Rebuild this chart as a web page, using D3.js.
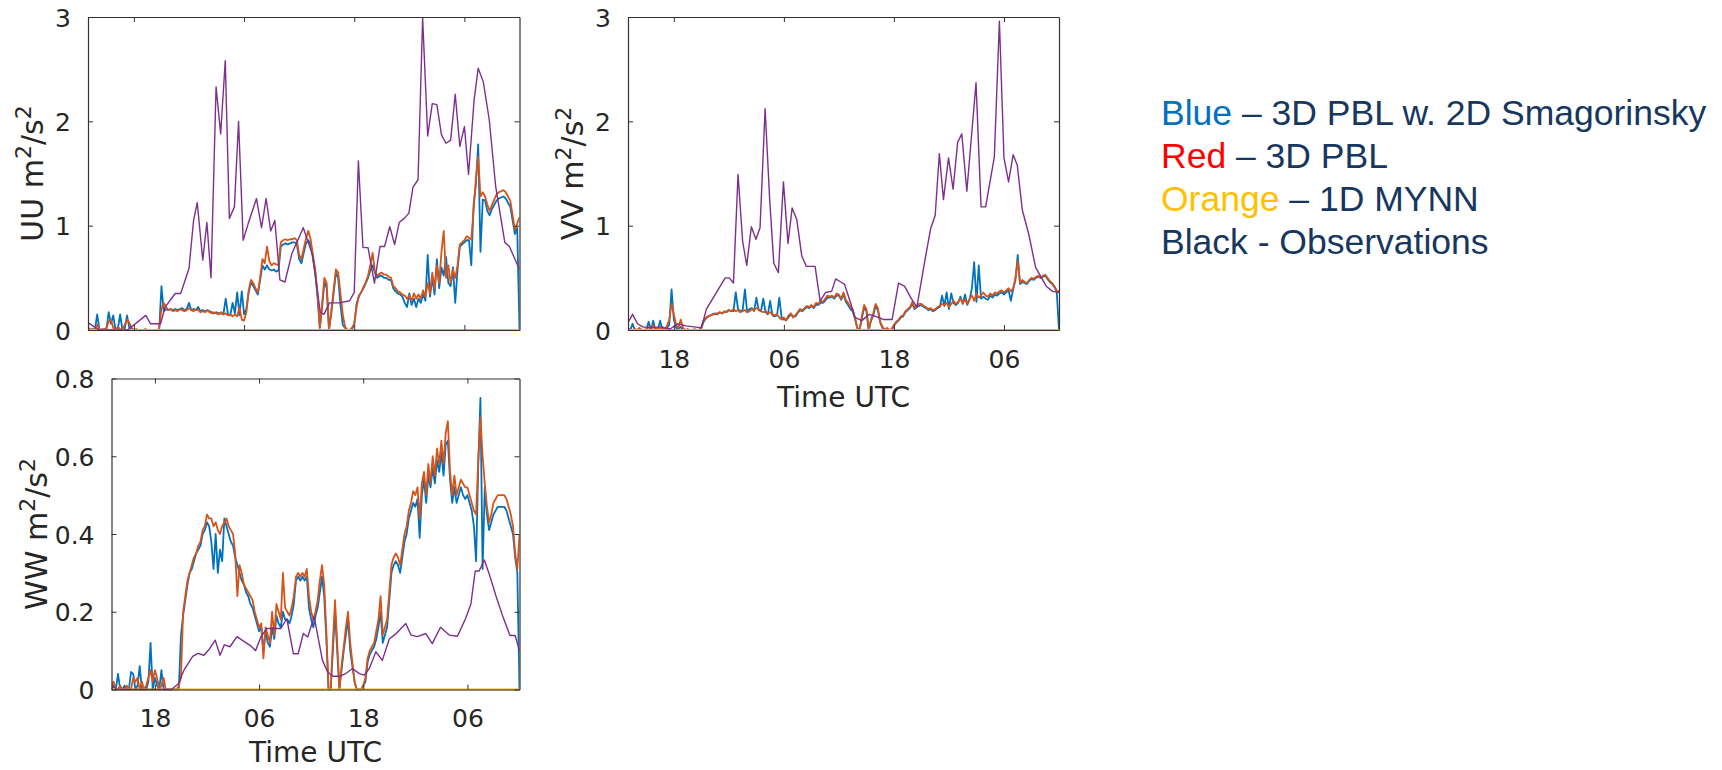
<!DOCTYPE html>
<html>
<head>
<meta charset="utf-8">
<script src="https://cdn.jsdelivr.net/npm/d3@7"></script>
<style>
  html, body { margin: 0; padding: 0; background: #ffffff; }
  svg { display: block; }
</style>
</head>
<body>
<svg id="chart" width="1722" height="770"></svg>
<script>
// ---------------- DATA ----------------
// time axis in hours from day-1 00 UTC (13 -> 13 UTC day 1, 60 -> 12 UTC day 3)
const xDomainHours = [13, 60];
const xTickHours = [18, 30, 42, 54];
const xTickLabels = ["18", "06", "18", "06"];
const modelStartHour = 13;     // model output every 15 min
const modelStepHours = 0.25;

const uuTicks = [0, 1, 2, 3];
const vvTicks = [0, 1, 2, 3];
const wwTicks = [0, 0.2, 0.4, 0.6, 0.8];

// ---- UU ----
const uuBlue = [
  0.00,0.00,0.01,0.00, 0.15,0.00,0.00,0.01, 0.00,0.17,0.06,0.14, 0.00,0.01,0.15,0.00,
  0.01,0.14,0.02,0.00, 0.00,0.00,0.00,0.00, 0.00,0.00,0.00,0.00, 0.00,0.00,0.00,0.00,
  0.42,0.18,0.20,0.19, 0.20,0.19,0.20,0.19, 0.20,0.21,0.19,0.20, 0.26,0.19,0.20,0.19,
  0.22,0.18,0.19,0.18, 0.19,0.18,0.17,0.16, 0.17,0.16,0.16,0.15, 0.30,0.15,0.14,0.26,
  0.16,0.36,0.14,0.37, 0.15,0.20,0.36,0.46, 0.42,0.38,0.34,0.48, 0.62,0.58,0.62,0.58,
  0.57,0.58,0.56,0.57, 0.80,0.82,0.83,0.82, 0.83,0.84,0.84,0.82, 0.68,0.64,0.74,0.83,
  0.86,0.82,0.69,0.55, 0.32,0.02,0.22,0.46, 0.40,0.00,0.16,0.35, 0.55,0.50,0.24,0.05,
  0.02,0.00,0.00,0.01, 0.05,0.25,0.32,0.36, 0.40,0.45,0.50,0.57, 0.62,0.55,0.50,0.52,
  0.52,0.50,0.50,0.48, 0.48,0.40,0.37,0.35, 0.34,0.32,0.26,0.22, 0.35,0.24,0.30,0.22,
  0.30,0.26,0.34,0.28, 0.72,0.32,0.50,0.34, 0.68,0.40,0.60,0.52, 0.70,0.45,0.42,0.60,
  0.26,0.58,0.80,0.82, 0.84,0.86,0.86,0.62, 1.20,1.40,1.78,0.75, 1.25,1.24,1.14,1.10,
  1.16,1.20,1.24,1.26, 1.27,1.28,1.26,1.22, 1.18,1.05,0.92,0.98, 0.00
];
const uuRed = [
  0.02,0.01,0.00,0.01, 0.05,0.00,0.01,0.00, 0.02,0.08,0.10,0.02, 0.00,0.03,0.01,0.00,
  0.05,0.10,0.07,0.02, 0.00,0.01,0.00,0.00, 0.00,0.01,0.00,0.00, 0.00,0.00,0.00,0.01,
  0.20,0.26,0.22,0.19, 0.20,0.18,0.19,0.18, 0.20,0.19,0.18,0.19, 0.21,0.19,0.18,0.20,
  0.19,0.17,0.18,0.17, 0.19,0.17,0.16,0.17, 0.16,0.15,0.17,0.15, 0.16,0.14,0.15,0.13,
  0.15,0.13,0.22,0.10, 0.09,0.17,0.38,0.48, 0.45,0.40,0.36,0.50, 0.68,0.64,0.80,0.66,
  0.62,0.64,0.63,0.62, 0.84,0.86,0.87,0.86, 0.87,0.87,0.88,0.86, 0.72,0.68,0.78,0.88,
  0.95,0.87,0.72,0.58, 0.35,0.02,0.25,0.50, 0.45,0.00,0.18,0.38, 0.58,0.55,0.35,0.15,
  0.03,0.00,0.00,0.02, 0.06,0.22,0.33,0.36, 0.41,0.46,0.52,0.62, 0.74,0.56,0.52,0.54,
  0.55,0.53,0.53,0.51, 0.50,0.42,0.40,0.37, 0.36,0.34,0.33,0.30, 0.33,0.28,0.35,0.30,
  0.34,0.30,0.38,0.32, 0.45,0.35,0.55,0.40, 0.62,0.45,0.75,0.95, 0.50,0.62,0.45,0.58,
  0.50,0.62,0.82,0.84, 0.86,0.90,0.88,0.87, 1.15,1.45,1.66,1.28, 1.32,1.28,1.20,1.14,
  1.20,1.25,1.30,1.32, 1.33,1.34,1.32,1.28, 1.24,1.10,0.96,1.02, 1.08
];
const uuObsHours = [
  13.0,14.2,17.3,19.3,19.8,20.9,21.4,22.5,23.1,24.0,24.5,24.9,25.5,25.95,26.4,26.95,
  27.45,27.95,28.4,28.95,29.4,29.9,30.45,31.35,31.9,32.4,32.9,33.35,33.9,34.45,35.2,36.45,
  37.45,38.3,38.7,39.3,40.4,41.5,42.0,42.45,42.95,43.5,44.2,44.8,45.3,45.87,46.4,46.9,
  47.45,47.95,48.4,48.95,49.45,50.0,50.5,51.0,51.5,52.0,52.5,53.0,53.5,54.0,54.45,55.05,
  55.5,56.05,56.7,57.4,58.4,58.9,60.0
];
const uuObs = [
  0.07,0.00,0.00,0.14,0.06,0.06,0.22,0.35,0.35,0.59,1.05,1.22,0.67,1.03,0.50,2.33,
  1.88,2.58,1.07,1.18,2.00,0.86,1.02,1.26,0.98,1.26,0.95,1.05,0.48,0.46,0.73,0.98,
  0.72,0.17,0.15,0.26,0.26,0.28,0.36,1.62,0.79,0.79,0.45,0.80,0.80,0.99,0.82,1.03,
  1.07,1.12,1.37,1.44,2.99,1.86,2.17,2.16,1.87,1.79,1.82,2.26,1.76,1.95,1.49,2.20,
  2.51,2.38,2.02,1.38,0.84,0.80,0.58
];

// ---- VV ----
const vvBlue = [
  0.01,0.00,0.06,0.00, 0.00,0.01,0.00,0.00, 0.00,0.08,0.00,0.09, 0.00,0.00,0.09,0.00,
  0.00,0.02,0.05,0.39, 0.10,0.02,0.01,0.03, 0.00,0.00,0.00,0.00, 0.00,0.00,0.00,0.00,
  0.02,0.08,0.11,0.13, 0.14,0.15,0.16,0.15, 0.17,0.16,0.17,0.18, 0.19,0.18,0.18,0.36,
  0.20,0.18,0.19,0.39, 0.17,0.20,0.21,0.18, 0.31,0.19,0.18,0.30, 0.17,0.15,0.28,0.14,
  0.13,0.14,0.31,0.12, 0.10,0.10,0.12,0.15, 0.13,0.13,0.16,0.19, 0.18,0.20,0.22,0.21,
  0.23,0.21,0.24,0.24, 0.26,0.26,0.28,0.31, 0.31,0.32,0.30,0.33, 0.33,0.29,0.34,0.27,
  0.24,0.20,0.18,0.11, 0.02,0.00,0.11,0.22, 0.18,0.00,0.09,0.14, 0.23,0.19,0.07,0.02,
  0.00,0.01,0.00,0.00, 0.04,0.07,0.09,0.12, 0.13,0.17,0.19,0.21, 0.25,0.20,0.22,0.23,
  0.24,0.22,0.21,0.19, 0.20,0.18,0.19,0.21, 0.22,0.33,0.23,0.36, 0.20,0.35,0.26,0.24,
  0.26,0.32,0.25,0.34, 0.24,0.29,0.40,0.65, 0.27,0.62,0.30,0.32, 0.30,0.29,0.33,0.31,
  0.34,0.33,0.35,0.36, 0.34,0.36,0.38,0.28, 0.39,0.48,0.72,0.44, 0.46,0.45,0.44,0.47,
  0.49,0.48,0.50,0.51, 0.50,0.51,0.52,0.49, 0.46,0.44,0.41,0.37, 0.00
];
const vvRed = [
  0.02,0.00,0.00,0.01, 0.00,0.02,0.00,0.00, 0.01,0.03,0.00,0.05, 0.00,0.02,0.00,0.03,
  0.00,0.04,0.10,0.25, 0.15,0.05,0.02,0.10, 0.02,0.00,0.01,0.00, 0.00,0.01,0.00,0.00,
  0.03,0.09,0.12,0.13, 0.14,0.15,0.15,0.16, 0.17,0.16,0.18,0.17, 0.19,0.18,0.20,0.18,
  0.19,0.17,0.18,0.19, 0.17,0.18,0.20,0.19, 0.21,0.20,0.18,0.17, 0.18,0.16,0.17,0.15,
  0.14,0.15,0.12,0.10, 0.12,0.09,0.14,0.16, 0.12,0.14,0.17,0.20, 0.19,0.21,0.23,0.22,
  0.24,0.22,0.26,0.25, 0.28,0.27,0.30,0.33, 0.32,0.33,0.31,0.35, 0.34,0.30,0.36,0.29,
  0.26,0.22,0.20,0.12, 0.02,0.00,0.13,0.24, 0.20,0.00,0.10,0.16, 0.25,0.21,0.08,0.03,
  0.00,0.02,0.00,0.01, 0.05,0.08,0.10,0.13, 0.14,0.18,0.20,0.22, 0.27,0.21,0.23,0.25,
  0.25,0.23,0.22,0.20, 0.21,0.19,0.20,0.22, 0.23,0.25,0.24,0.26, 0.22,0.25,0.28,0.25,
  0.27,0.30,0.26,0.29, 0.25,0.30,0.33,0.28, 0.35,0.31,0.33,0.36, 0.33,0.32,0.35,0.33,
  0.36,0.35,0.37,0.38, 0.36,0.38,0.40,0.37, 0.40,0.50,0.66,0.45, 0.48,0.46,0.45,0.48,
  0.50,0.49,0.51,0.52, 0.50,0.52,0.53,0.50, 0.47,0.45,0.42,0.38, 0.37
];
const vvObsHours = [
  13.0,13.5,14.05,14.6,15.5,16.5,17.6,18.4,19.3,20.2,21.0,21.55,22.5,23.6,24.05,24.5,
  25.0,25.5,25.95,26.45,26.95,27.4,27.95,28.45,28.9,29.4,29.95,30.45,30.9,31.4,31.95,32.45,
  33.4,33.95,34.55,35.2,35.65,36.2,36.6,37.2,37.75,38.5,39.3,40.0,40.9,41.8,42.5,43.15,
  43.9,44.5,45.4,46.0,46.5,46.95,47.4,47.95,48.45,48.95,49.4,49.95,50.95,51.5,52.0,52.95,
  53.5,54.0,54.5,55.0,55.45,56.0,56.7,57.45,58.1,58.6,59.3,60.0
];
const vvObs = [
  0.07,0.15,0.06,0.03,0.02,0.03,0.01,0.06,0.04,0.03,0.02,0.20,0.34,0.50,0.50,0.45,
  1.49,0.85,0.62,0.99,0.87,0.98,2.12,1.25,0.64,0.55,1.42,0.83,1.17,1.06,0.71,0.61,
  0.61,0.28,0.36,0.37,0.49,0.46,0.44,0.28,0.12,0.09,0.15,0.13,0.10,0.10,0.45,0.42,
  0.30,0.22,0.68,0.97,1.10,1.69,1.25,1.65,1.35,1.80,1.88,1.33,2.37,1.18,1.18,1.66,
  2.96,1.65,1.42,1.68,1.58,1.15,0.92,0.60,0.50,0.42,0.37,0.36
];

// ---- WW ----
const wwBlue = [
  0.00,0.01,0.00,0.04, 0.00,0.00,0.01,0.00, 0.00,0.045,0.04,0.00, 0.01,0.06,0.00,0.00,
  0.00,0.02,0.12,0.00, 0.03,0.01,0.00,0.05, 0.00,0.00,0.00,0.00, 0.00,0.00,0.00,0.00,
  0.14,0.19,0.23,0.27, 0.30,0.31,0.33,0.35, 0.36,0.37,0.40,0.41, 0.43,0.42,0.38,0.31,
  0.40,0.30,0.36,0.33, 0.44,0.42,0.40,0.38, 0.37,0.34,0.32,0.30, 0.28,0.27,0.25,0.24,
  0.22,0.21,0.19,0.17, 0.15,0.16,0.10,0.15, 0.12,0.11,0.16,0.13, 0.19,0.17,0.16,0.20,
  0.18,0.18,0.17,0.19, 0.22,0.28,0.29,0.28, 0.29,0.28,0.29,0.21, 0.18,0.16,0.19,0.21,
  0.25,0.29,0.24,0.13, 0.00,0.00,0.10,0.20, 0.10,0.00,0.05,0.10, 0.14,0.18,0.10,0.06,
  0.02,0.00,0.00,0.00, 0.01,0.02,0.07,0.09, 0.10,0.11,0.13,0.16, 0.20,0.12,0.14,0.16,
  0.23,0.30,0.32,0.33, 0.32,0.30,0.34,0.38, 0.40,0.44,0.46,0.48, 0.47,0.49,0.39,0.50,
  0.54,0.48,0.55,0.52, 0.57,0.53,0.59,0.56, 0.61,0.55,0.63,0.64, 0.54,0.48,0.52,0.48,
  0.50,0.52,0.50,0.49, 0.50,0.48,0.46,0.42, 0.33,0.58,0.75,0.31, 0.52,0.45,0.41,0.43,
  0.45,0.46,0.47,0.47, 0.47,0.47,0.46,0.44, 0.42,0.40,0.34,0.30, 0.00
];
const wwRed = [
  0.01,0.02,0.00,0.00, 0.01,0.00,0.00,0.01, 0.00,0.00,0.03,0.02, 0.03,0.00,0.02,0.00,
  0.01,0.03,0.05,0.02, 0.05,0.03,0.00,0.01, 0.03,0.00,0.00,0.00, 0.00,0.00,0.00,0.01,
  0.03,0.20,0.24,0.28, 0.30,0.32,0.34,0.35, 0.37,0.38,0.41,0.42, 0.45,0.44,0.44,0.42,
  0.43,0.41,0.40,0.42, 0.43,0.44,0.42,0.41, 0.40,0.35,0.24,0.32, 0.30,0.27,0.26,0.25,
  0.24,0.23,0.20,0.18, 0.16,0.17,0.08,0.16, 0.14,0.12,0.20,0.14, 0.22,0.20,0.18,0.30,
  0.21,0.20,0.19,0.21, 0.24,0.29,0.30,0.29, 0.30,0.29,0.31,0.24, 0.20,0.18,0.20,0.23,
  0.28,0.32,0.27,0.15, 0.00,0.00,0.12,0.23, 0.12,0.00,0.06,0.11, 0.16,0.20,0.12,0.07,
  0.02,0.00,0.00,0.00, 0.01,0.03,0.08,0.10, 0.11,0.12,0.15,0.18, 0.24,0.14,0.16,0.18,
  0.25,0.32,0.34,0.35, 0.34,0.32,0.36,0.40, 0.42,0.46,0.48,0.51, 0.50,0.52,0.44,0.53,
  0.56,0.50,0.58,0.53, 0.60,0.55,0.62,0.58, 0.64,0.58,0.66,0.69, 0.56,0.50,0.55,0.50,
  0.52,0.54,0.53,0.52, 0.52,0.50,0.48,0.46, 0.45,0.59,0.70,0.60, 0.53,0.47,0.43,0.45,
  0.48,0.49,0.50,0.50, 0.50,0.50,0.49,0.47, 0.45,0.42,0.35,0.31, 0.40
];
const wwObsHours = [
  13.0,13.7,19.9,20.7,21.35,22.35,22.95,23.65,24.3,24.95,25.5,26.0,26.65,27.45,28.25,29.0,
  29.6,30.2,30.9,31.7,32.5,33.2,33.95,34.5,35.1,35.6,36.35,37.3,37.9,38.5,39.25,40.0,
  40.75,41.55,42.1,42.7,43.45,44.2,45.0,45.75,46.35,46.9,47.5,48.25,49.2,49.95,50.9,51.9,
  52.85,53.8,54.4,54.9,55.35,55.95,56.5,57.3,58.05,58.9,59.5,60.0
];
const wwObs = [
  0.010,0.000,0.000,0.015,0.050,0.085,0.093,0.088,0.105,0.127,0.088,0.115,0.110,0.136,0.124,0.113,
  0.100,0.135,0.157,0.157,0.157,0.182,0.092,0.092,0.144,0.135,0.187,0.075,0.045,0.034,0.034,0.041,
  0.054,0.041,0.037,0.054,0.097,0.075,0.130,0.143,0.157,0.170,0.140,0.136,0.144,0.118,0.160,0.140,
  0.137,0.183,0.220,0.305,0.305,0.333,0.298,0.240,0.190,0.139,0.139,0.100
];

// ---- 1D MYNN (flat at zero in all three panels) ----
const mynnHours = [13, 60];
const mynnUU = [0, 0];
const mynnVV = [0, 0];
const mynnWW = [0, 0];

// ---- legend text ----
const legendKeys = ["Blue", "Red", "Orange", "Black"];
const legendRest = [" \u2013 3D PBL w. 2D Smagorinsky", " \u2013 3D PBL", " \u2013 1D MYNN", " - Observations"];
const legendKeyColors = ["#0070C0", "#FF0000", "#FFC000", "#17375E"];

// ---------------- STYLE / LAYOUT ----------------
const colors = { blue: "#0072BD", red: "#D95319", yellow: "#EDB120", purple: "#7E2F8E" };
const axisColor = "#333333";
const textColor = "#262626";
const tickFont = 25, labelFont = 30, supFont = 22;

const panels = [
  { name: "UU", blue: uuBlue, red: uuRed, obsT: uuObsHours, obs: uuObs, mynn: mynnUU,
    ticks: uuTicks, fmt: d3.format("d"), yMax: 3,
    box: { x0: 88, x1: 519.5, y0: 17, y1: 330 }, xLabels: false, labelX: 43, xLabelDy: 77 },
  { name: "VV", blue: vvBlue, red: vvRed, obsT: vvObsHours, obs: vvObs, mynn: mynnVV,
    ticks: vvTicks, fmt: d3.format("d"), yMax: 3,
    box: { x0: 628, x1: 1059, y0: 17, y1: 330 }, xLabels: true, labelX: 583, xLabelDy: 77 },
  { name: "WW", blue: wwBlue, red: wwRed, obsT: wwObsHours, obs: wwObs, mynn: mynnWW,
    ticks: wwTicks, fmt: d => d === 0 ? "0" : d3.format(".1f")(d), yMax: 0.8,
    box: { x0: 111.5, x1: 519.5, y0: 378.5, y1: 689.5 }, xLabels: true, labelX: 47, xLabelDy: 72 }
];

// ---------------- DRAW ----------------
const svg = d3.select("#chart");
const defs = svg.append("defs");

function styleAxis(g) {
  g.attr("font-family", "'DejaVu Sans', sans-serif").attr("font-size", tickFont);
  g.select(".domain").attr("stroke", axisColor).attr("stroke-width", 1.2);
  g.selectAll(".tick line").attr("stroke", axisColor).attr("stroke-width", 1);
  g.selectAll(".tick text").attr("fill", textColor);
}

panels.forEach((p, i) => {
  const b = p.box;
  const x = d3.scaleLinear().domain(xDomainHours).range([b.x0, b.x1]);
  const y = d3.scaleLinear().domain([0, p.yMax]).range([b.y1, b.y0]);

  const clipId = "clip-" + p.name;
  defs.append("clipPath").attr("id", clipId)
    .append("rect").attr("x", b.x0).attr("y", b.y0 - 2)
    .attr("width", b.x1 - b.x0).attr("height", b.y1 - b.y0 + 3);

  const g = svg.append("g").attr("clip-path", `url(#${clipId})`);
  const line = d3.line().x(d => x(d[0])).y(d => y(d[1]));
  const modelPts = arr => arr.map((v, k) => [modelStartHour + k * modelStepHours, v]);

  g.append("path").datum(modelPts(p.blue)).attr("d", line)
    .attr("fill", "none").attr("stroke", colors.blue).attr("stroke-width", 1.8).attr("stroke-linejoin", "round");
  g.append("path").datum(modelPts(p.red)).attr("d", line)
    .attr("fill", "none").attr("stroke", colors.red).attr("stroke-width", 1.8).attr("stroke-linejoin", "round");
  g.append("path").datum(mynnHours.map((t, k) => [t, p.mynn[k]])).attr("d", line)
    .attr("fill", "none").attr("stroke", colors.yellow).attr("stroke-width", 2.2);
  g.append("path").datum(p.obsT.map((t, k) => [t, p.obs[k]])).attr("d", line)
    .attr("fill", "none").attr("stroke", colors.purple).attr("stroke-width", 1.4).attr("stroke-linejoin", "round");

  // axes (MATLAB style box with inward ticks)
  const bottom = svg.append("g").attr("transform", `translate(0,${b.y1})`)
    .call(d3.axisBottom(x).tickValues(xTickHours)
      .tickFormat((d, k) => p.xLabels ? xTickLabels[k] : "")
      .tickSizeInner(-5).tickSizeOuter(0).tickPadding(20));
  styleAxis(bottom);
  const top = svg.append("g").attr("transform", `translate(0,${b.y0})`)
    .call(d3.axisTop(x).tickValues(xTickHours).tickFormat("")
      .tickSizeInner(-5).tickSizeOuter(0));
  styleAxis(top);
  const left = svg.append("g").attr("transform", `translate(${b.x0},0)`)
    .call(d3.axisLeft(y).tickValues(p.ticks).tickFormat(p.fmt)
      .tickSizeInner(-5).tickSizeOuter(0).tickPadding(17));
  styleAxis(left);
  left.selectAll(".tick text").attr("dy", "0.36em");
  const right = svg.append("g").attr("transform", `translate(${b.x1},0)`)
    .call(d3.axisRight(y).tickValues(p.ticks).tickFormat("")
      .tickSizeInner(-5).tickSizeOuter(0));
  styleAxis(right);

  // y label with superscripts
  const cy = (b.y0 + b.y1) / 2;
  const yl = svg.append("text")
    .attr("transform", `translate(${p.labelX},${cy}) rotate(-90)`)
    .attr("text-anchor", "middle")
    .attr("font-family", "'DejaVu Sans', sans-serif")
    .attr("font-size", labelFont).attr("fill", textColor);
  yl.append("tspan").text(p.name + " m");
  yl.append("tspan").attr("font-size", supFont).attr("dy", -12).text("2");
  yl.append("tspan").attr("dy", 12).text("/s");
  yl.append("tspan").attr("font-size", supFont).attr("dy", -12).text("2");

  if (p.xLabels) {
    svg.append("text")
      .attr("x", (b.x0 + b.x1) / 2).attr("y", b.y1 + p.xLabelDy)
      .attr("text-anchor", "middle")
      .attr("font-family", "'DejaVu Sans', sans-serif")
      .attr("font-size", 28).attr("fill", textColor)
      .text("Time UTC");
  }
});

// legend (plain text block)
const legendX = 1161, legendY0 = 125, legendDy = 43;
legendKeys.forEach((k, i) => {
  const t = svg.append("text")
    .attr("x", legendX).attr("y", legendY0 + i * legendDy)
    .attr("font-family", "'Liberation Sans', Arial, sans-serif")
    .attr("font-size", 35.5);
  t.append("tspan").attr("fill", legendKeyColors[i]).text(k);
  t.append("tspan").attr("fill", "#17375E").text(legendRest[i]);
});
</script>
</body>
</html>
